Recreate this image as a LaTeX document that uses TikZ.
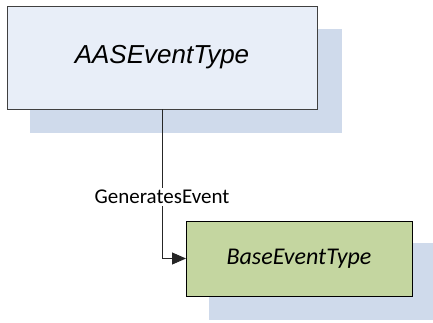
\documentclass[tikz,border=0pt]{standalone}
\usepackage{fontspec}
\setmainfont{Carlito}
\newfontfamily\arialfont{Liberation Sans}
\usetikzlibrary{arrows.meta, positioning, calc}
\definecolor{colObj}{RGB}{232,238,248}
\definecolor{colBase}{RGB}{196,214,160}
\definecolor{colShadow}{RGB}{207,218,235}
\definecolor{colEdge}{RGB}{64,64,64}
\tikzset{
  % shared base
  typebox/.style={
    rectangle, draw=#1, line width=0.9pt,
    inner sep=0pt, outer sep=0pt, align=center,
  },
  % per-box shortcuts
  tAAS/.style ={typebox=colEdge, fill=colObj,
                minimum width=310pt, minimum height=103pt,
                font=\arialfont\itshape\fontsize{26}{30}\selectfont},
  tBase/.style={typebox=black, fill=colBase,
                minimum width=226pt, minimum height=75pt,
                font=\itshape\fontsize{24}{28}\selectfont},
  shadowbox/.style={rectangle, fill=colShadow, draw=none,
                    inner sep=0pt, outer sep=0pt},
  % arrows
  refArr/.style  ={-{Triangle[length=14pt,width=12pt]}, line width=0.9pt, draw=black!85},
  refLabel/.style={font=\fontsize{21}{24}\selectfont, fill=white, inner sep=2pt},
}

\begin{document}
\begin{tikzpicture}[x=1pt, y=-1pt]
\useasboundingbox (0,0) rectangle (433,322);

% ═══════════════════════════════════════════════════════════════════════════
%  SHADOWS
% ═══════════════════════════════════════════════════════════════════════════
\node[shadowbox, minimum width=312pt, minimum height=104pt] (aasShadow) at (186,81) {};
\node[shadowbox, minimum width=224pt, minimum height=77pt] (baseShadow) at (321,281.5) {};

% ═══════════════════════════════════════════════════════════════════════════
%  TYPES
% ═══════════════════════════════════════════════════════════════════════════
\node[tAAS] (aas) at (162,57.5) {AASEventType};
\node[tBase] (base) at (299,258.5) {BaseEventType};

% ═══════════════════════════════════════════════════════════════════════════
%  REFERENCE
% ═══════════════════════════════════════════════════════════════════════════
\draw[refArr] (aas.south) |- node[refLabel, pos=0.295] {GeneratesEvent} (base.west);

\end{tikzpicture}
\end{document}
